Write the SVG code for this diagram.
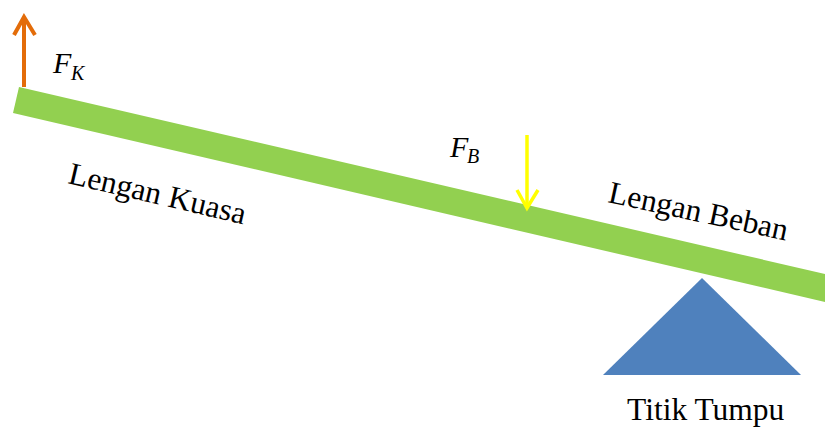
<svg xmlns="http://www.w3.org/2000/svg" width="825" height="428" viewBox="0 0 825 428">
<style>
.lbl{font-family:"Liberation Serif","Times New Roman",serif;font-size:31.5px;fill:#000}
.math{font-family:"Liberation Serif","Times New Roman",serif;font-style:italic;fill:#000}
</style>
<rect width="825" height="428" fill="#fff"/>
<g id="lever">
<polygon points="19,87 840,277.5 840,305.5 13,113" fill="#92D050"/>
</g>
<g id="fulcrum">
<polygon points="702,278 801,375 603,375" fill="#4F81BD"/>
<text class="lbl" x="627" y="420" font-size="32">Titik Tumpu</text>
</g>
<g id="connectors">
<g id="force-k" fill="none" stroke="#E36C09" stroke-width="4" stroke-linecap="butt">
<line x1="24" y1="87" x2="24" y2="17"/>
<polyline points="14,35 24,17 35,35"/>
</g>
<g id="force-b" fill="none" stroke="#FFFF00" stroke-width="3.5">
<line x1="527" y1="135" x2="527" y2="208"/>
<polyline points="517,190 527,208 538,190"/>
</g>
</g>
<g id="label-fk">
<text class="math" x="53" y="73" font-size="30">F</text>
<text class="math" x="71" y="80" font-size="20">K</text>
</g>
<g id="label-fb">
<text class="math" x="450" y="157" font-size="30">F</text>
<text class="math" x="467" y="163" font-size="20">B</text>
</g>
<g id="label-kuasa">
<text class="lbl" transform="translate(67,183) rotate(13.2)">Lengan Kuasa</text>
</g>
<g id="label-beban">
<text class="lbl" transform="translate(607,202) rotate(12.2)">Lengan Beban</text>
</g>
</svg>
